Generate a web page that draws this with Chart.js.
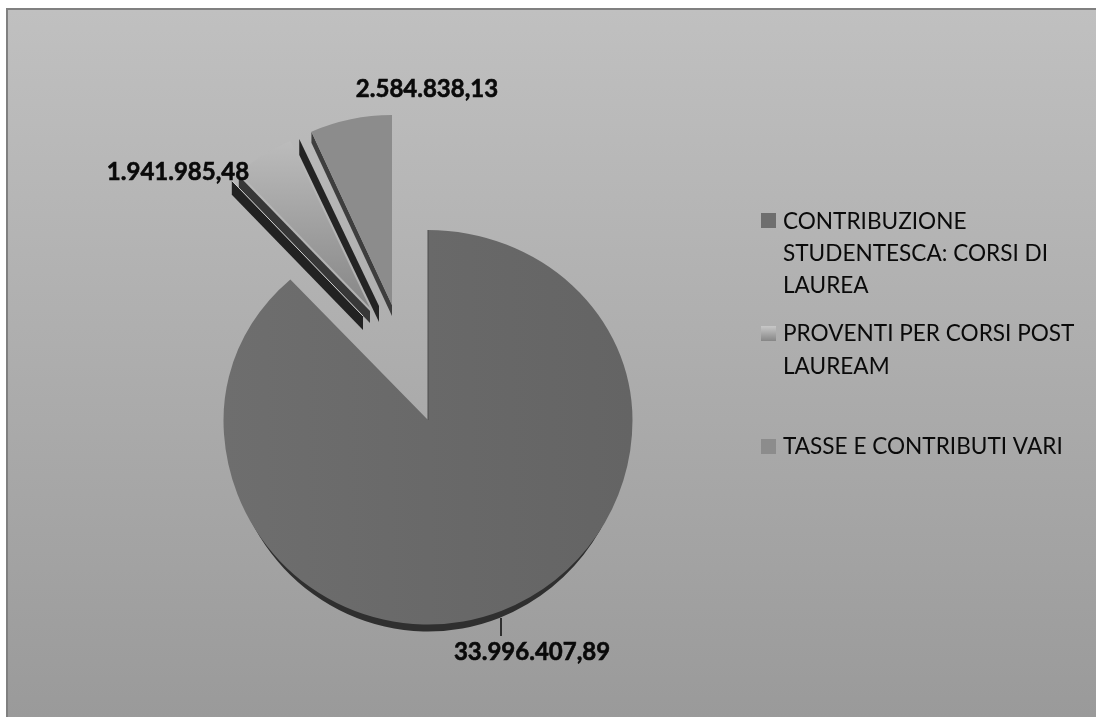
<!DOCTYPE html>
<html>
<head>
<meta charset="utf-8">
<style>
  html, body { margin: 0; padding: 0; background: #fff; overflow: hidden; }
  #box { position: absolute; left: 6px; top: 8px; width: 1090px; height: 709px; border-left: 2px solid #808080; border-top: 2px solid #808080; box-sizing: border-box; background: linear-gradient(to bottom, #c0c0c0, #9a9a9a); }
  canvas { position: absolute; left: 0; top: 0; }
</style>
<script src="https://cdn.jsdelivr.net/npm/chart.js@4"></script>
</head>
<body>
<div id="box"></div>
<canvas id="pie" width="1096" height="717"></canvas>
<script>
const categories = ['CONTRIBUZIONE STUDENTESCA: CORSI DI LAUREA', 'PROVENTI PER CORSI POST LAUREAM', 'TASSE E CONTRIBUTI VARI'];
const amounts = [33996407.89, 1941985.48, 2584838.13];
const legendLines = [['CONTRIBUZIONE', 'STUDENTESCA: CORSI DI', 'LAUREA'], ['PROVENTI PER CORSI POST', 'LAUREAM'], ['TASSE E CONTRIBUTI VARI']];

// slices pulled out of the pie, and their squash to fake the perspective
const sliceView = [
  { dx: 0, dy: 0, sx: 1, syTop: 0.929, syBottom: 1 },
  { dx: -58, dy: -112, sx: 0.953, syTop: 0.895, syBottom: 0.895 },
  { dx: -36, dy: -115, sx: 0.963, syTop: 0.929, syBottom: 0.929 }
];
const sliceWalls = [
  { slice: 1, edge: 'startAngle', dx: -7, dy: 8, depth: 14, color: '#222222' },
  { slice: 1, edge: 'startAngle', dx: 0, dy: 3, depth: 12, color: '#383838' },
  { slice: 1, edge: 'endAngle', dx: 9, dy: -2, depth: 16, color: '#242424' },
  { slice: 2, edge: 'startAngle', dx: 0, dy: 0, depth: 11, color: '#3e3e3e' }
];
const sliceLines = [
  { slice: 1, edge: 'startAngle', dx: -7, dy: 8, color: '#d0d0d0' },
  { slice: 0, edge: 'startAngle', dx: 0, dy: 0, color: '#4d4d4d' }
];
const labelSpots = [
  { x: 532, y: 660, leader: [501, 618, 636] },
  { x: 178, y: 180 },
  { x: 427, y: 97 }
];
const legendRows = [
  { box: 213, baselines: [229, 261, 293] },
  { box: 326, baselines: [341, 374] },
  { box: 439, baselines: [454] }
];

function edgePoint(el, view, angle, dx, dy) {
  const r = el.outerRadius;
  const sy = Math.sin(angle) < 0 ? view.syTop : view.syBottom;
  return [el.x + view.dx + dx + Math.cos(angle) * r * view.sx, el.y + view.dy + dy + Math.sin(angle) * r * sy];
}

// draws one arc through the library, above and below its centre separately
function drawArc(ctx, el, view, fill, drop) {
  const saved = el.options;
  el.options = Object.assign({}, saved, { backgroundColor: fill });
  [[-1, view.syTop], [1, view.syBottom]].forEach(([side, sy]) => {
    if (drop && side < 0) return;
    ctx.save();
    ctx.beginPath();
    ctx.rect(0, side < 0 ? 0 : el.y + view.dy + drop, 1096, side < 0 ? el.y + view.dy : 717);
    ctx.clip();
    ctx.translate(el.x + view.dx, el.y + view.dy + drop);
    ctx.scale(drop ? view.sx * 0.975 : view.sx, sy);
    ctx.translate(-el.x, -el.y);
    el.draw(ctx);
    ctx.restore();
  });
  el.options = saved;
}

const tiltedPie = {
  id: 'tiltedPie',
  beforeDatasetDraw(chart) {
    const ctx = chart.ctx;
    const arcs = chart.getDatasetMeta(0).data;

    drawArc(ctx, arcs[0], sliceView[0], '#2f2f2f', 7);

    sliceWalls.forEach(w => {
      const el = arcs[w.slice];
      const view = sliceView[w.slice];
      const angle = el[w.edge];
      const outer = edgePoint(el, view, angle, w.dx, w.dy);
      const ax = el.x + view.dx + w.dx;
      const ay = el.y + view.dy + w.dy;
      ctx.fillStyle = w.color;
      ctx.beginPath();
      ctx.moveTo(ax, ay);
      ctx.lineTo(outer[0], outer[1]);
      ctx.lineTo(outer[0], outer[1] + w.depth);
      ctx.lineTo(ax, ay + w.depth);
      ctx.closePath();
      ctx.fill();
    });

    arcs.forEach((el, i) => {
      let fill = el.options.backgroundColor;
      if (i === 0) {
        fill = ctx.createLinearGradient(el.x - el.outerRadius, 0, el.x + el.outerRadius, 0);
        fill.addColorStop(0, '#6e6e6e');
        fill.addColorStop(1, '#646464');
      } else if (i === 1) {
        fill = ctx.createLinearGradient(0, el.y - el.outerRadius * 0.95, 0, el.y);
        fill.addColorStop(0, '#bebebe');
        fill.addColorStop(1, '#868686');
      }
      drawArc(ctx, el, sliceView[i], fill, 0);
    });

    sliceLines.forEach(l => {
      const el = arcs[l.slice];
      const view = sliceView[l.slice];
      const outer = edgePoint(el, view, el[l.edge], l.dx, l.dy);
      ctx.strokeStyle = l.color;
      ctx.lineWidth = 1;
      ctx.beginPath();
      ctx.moveTo(el.x + view.dx + l.dx, el.y + view.dy + l.dy);
      ctx.lineTo(outer[0], outer[1]);
      ctx.stroke();
    });
    return false;
  },
  afterDraw(chart) {
    const ctx = chart.ctx;
    ctx.save();
    // value labels, with a hairline stroke to thicken the bold
    ctx.fillStyle = '#0a0a0a';
    ctx.strokeStyle = '#0a0a0a';
    ctx.textAlign = 'center';
    ctx.textBaseline = 'alphabetic';
    ctx.font = 'bold 24px Lato';
    amounts.forEach((v, i) => {
      const text = v.toLocaleString('it-IT', { minimumFractionDigits: 2, maximumFractionDigits: 2 });
      ctx.lineWidth = 0.6;
      ctx.fillText(text, labelSpots[i].x, labelSpots[i].y);
      ctx.strokeText(text, labelSpots[i].x, labelSpots[i].y);
      const leader = labelSpots[i].leader;
      if (leader) {
        ctx.lineWidth = 1.5;
        ctx.beginPath();
        ctx.moveTo(leader[0], leader[1]);
        ctx.lineTo(leader[0], leader[2]);
        ctx.stroke();
      }
    });
    // legend
    const swatches = ['#6e6e6e', null, '#8c8c8c'];
    ctx.textAlign = 'left';
    ctx.font = '22.6px Lato';
    categories.forEach((name, i) => {
      const row = legendRows[i];
      let swatch = swatches[i];
      if (!swatch) {
        swatch = ctx.createLinearGradient(0, row.box, 0, row.box + 15);
        swatch.addColorStop(0, '#c8c8c8');
        swatch.addColorStop(1, '#868686');
      }
      ctx.fillStyle = swatch;
      ctx.fillRect(761, row.box, 15, 15);
      ctx.fillStyle = '#0a0a0a';
      legendLines[i].forEach((line, j) => ctx.fillText(line, 783, row.baselines[j]));
    });
    ctx.restore();
  }
};

const pie = new Chart(document.getElementById('pie').getContext('2d'), {
  type: 'pie',
  data: {
    labels: categories,
    datasets: [{
      data: amounts,
      backgroundColor: ['#6a6a6a', '#a8a8a8', '#8c8c8c'],
      borderWidth: 0
    }]
  },
  options: {
    responsive: false,
    animation: false,
    layout: { padding: { left: 223.5, right: 463.5, top: 215.5, bottom: 92.5 } },
    plugins: { legend: { display: false }, tooltip: { enabled: false } }
  },
  plugins: [tiltedPie]
});
</script>
</body>
</html>
